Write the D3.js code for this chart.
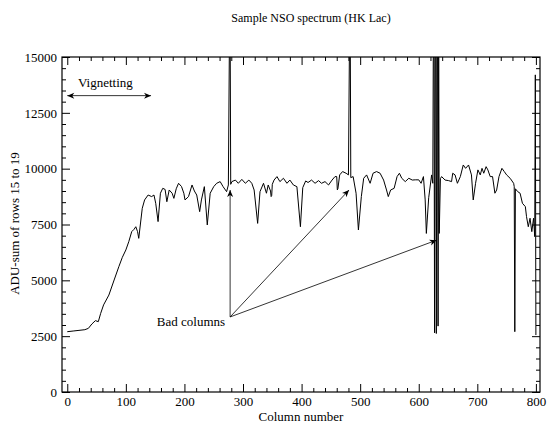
<!DOCTYPE html>
<html>
<head>
<meta charset="utf-8">
<script src="https://cdn.jsdelivr.net/npm/d3@7"></script>
<style>
  body { margin: 0; background: #fff; }
  svg, svg text { font-family: 'Liberation Serif', 'Times New Roman', serif; }
  .tick text { font-size: 13px; font-family: 'Liberation Serif', 'Times New Roman', serif; }
</style>
</head>
<body>
<svg id="chart" width="547" height="425"></svg>
<script>
// column numbers and summed ADU (bad columns run off the top)
const columns = [0, 10, 20, 30, 36, 42, 48, 53, 57, 62, 71, 80, 88, 94, 100, 105, 110, 114, 117, 120,
  122, 128, 132, 138, 144, 148, 151, 155, 159, 163, 167, 170, 174, 179, 182, 186, 190, 195, 199, 201,
  207, 213, 217, 221, 226, 229, 234, 239, 244, 250, 255, 261, 266, 272, 275, 277, 278, 279, 281, 287,
  292, 298, 304, 310, 315, 319, 325, 329, 335, 340, 343, 347, 348, 349, 350, 353, 358, 363, 369, 375,
  380, 386, 392, 398, 402, 407, 411, 417, 423, 429, 434, 440, 446, 452, 457, 460, 461, 462, 465, 470,
  476, 480, 482, 483, 484, 488, 493, 497, 502, 506, 511, 517, 522, 528, 534, 540, 545, 548, 552, 558,
  563, 567, 571, 577, 583, 589, 594, 600, 604, 608, 611, 613, 617, 622, 624, 625, 626, 627, 628, 629,
  630, 631, 632, 633, 634, 635, 637, 639, 645, 651, 656, 658, 662, 666, 671, 676, 680, 685, 690, 693,
  697, 701, 705, 708, 711, 715, 718, 722, 726, 730, 733, 737, 742, 746, 750, 756, 762, 763, 764, 765,
  769, 773, 777, 782, 784, 787, 790, 793, 796, 798, 799, 800];
const aduSum = [2700, 2730, 2760, 2790, 2850, 3045, 3195, 3150, 3520, 3900, 4340, 5015, 5610, 6030, 6360, 6730, 7180, 7285, 7400, 7180,
  6880, 8225, 8600, 8820, 8750, 8820, 8450, 7630, 8900, 9120, 9070, 8520, 9045, 8900, 8670, 9100, 9345, 9200, 8900, 8600,
  8750, 9270, 9000, 8820, 8075, 8600, 9195, 7480, 8900, 9195, 9345, 9420, 9195, 8970, 9270, 16500, 16500, 9300, 9420, 9490,
  9345, 9520, 9345, 9490, 9345, 9045, 7550, 8970, 9345, 8900, 9270, 9000, 8750, 8800, 9300, 9490, 9645, 9420, 9570, 9345,
  9490, 9270, 9195, 7400, 9150, 9450, 9380, 9490, 9345, 9465, 9345, 9420, 9270, 9490, 9645, 9645, 9050, 9100, 9720, 9870,
  9795, 9720, 16500, 16500, 9600, 9645, 8900, 7255, 8750, 9570, 9720, 9345, 9795, 9870, 9795, 9490, 9045, 8750, 9045, 9120,
  9645, 9795, 9570, 9420, 9570, 9490, 9500, 9500, 9345, 9645, 8600, 7100, 8700, 9720, 9345, 16500, 16500, 2650, 16500, 16500,
  2620, 16500, 16500, 2950, 16500, 7100, 9550, 9645, 9490, 9465, 9420, 9795, 9720, 9345, 9645, 10165, 10015, 10165, 9720, 8600,
  9345, 9945, 9720, 10015, 9795, 10090, 9945, 9645, 9645, 8900, 9045, 9645, 10015, 9870, 9720, 9570, 9345, 9195, 2700, 9100,
  8970, 8900, 8450, 8300, 7850, 7400, 7780, 7180, 7780, 6955, 14200, 2550];

const xMajor = [0, 100, 200, 300, 400, 500, 600, 700, 800];
const yMajor = [0, 2500, 5000, 7500, 10000, 12500, 15000];

// annotation anchors in data units
const vignetting = {from: 0, to: 143, level: 13270};
const badOrigin = [278, 3360];
const badTargets = [[278, 9045], [481, 9045], [630.5, 6800]];

const svg = d3.select('#chart');
const pLeft = 62, pRight = 540, pTop = 57, pBottom = 392;

const x = d3.scaleLinear().domain([-9, 807]).range([pLeft, pRight]);
const y = d3.scaleLinear().domain([0, 15000]).range([pBottom, pTop]);

const xMinor = d3.range(0, 801, 20).filter(v => v % 100 !== 0);
const yMinor = d3.range(0, 15001, 500).filter(v => v % 2500 !== 0);

const defs = svg.append('defs');
defs.append('clipPath').attr('id', 'plotclip')
  .append('rect').attr('x', pLeft).attr('y', pTop).attr('width', pRight - pLeft).attr('height', pBottom - pTop);

defs.append('marker')
  .attr('id', 'head')
  .attr('viewBox', '-8 -4 9 8')
  .attr('refX', 0).attr('refY', 0)
  .attr('markerWidth', 9).attr('markerHeight', 8)
  .attr('markerUnits', 'userSpaceOnUse')
  .attr('orient', 'auto-start-reverse')
  .append('path')
  .attr('d', 'M0,0 L-7,-3 L-5,0 L-7,3 Z')
  .attr('fill', '#000');

// axes, ticks pointing inwards
function addAxis(axis, tr, labels) {
  const g = svg.append('g').attr('transform', tr).call(axis)
    .attr('font-family', null).attr('font-size', null);
  g.select('.domain').remove();
  if (!labels) g.selectAll('text').remove();
  return g;
}

addAxis(d3.axisBottom(x).tickValues(xMajor).tickSize(-8).tickPadding(5).tickFormat(d3.format('d')), `translate(0,${pBottom})`, true);
addAxis(d3.axisBottom(x).tickValues(xMinor).tickSize(-4), `translate(0,${pBottom})`, false);
addAxis(d3.axisTop(x).tickValues(xMajor).tickSize(-8), `translate(0,${pTop})`, false);
addAxis(d3.axisTop(x).tickValues(xMinor).tickSize(-4), `translate(0,${pTop})`, false);
addAxis(d3.axisLeft(y).tickValues(yMajor).tickSize(-8).tickPadding(5).tickFormat(d3.format('d')), `translate(${pLeft},0)`, true);
addAxis(d3.axisLeft(y).tickValues(yMinor).tickSize(-4), `translate(${pLeft},0)`, false);
addAxis(d3.axisRight(y).tickValues(yMajor).tickSize(-8), `translate(${pRight},0)`, false);
addAxis(d3.axisRight(y).tickValues(yMinor).tickSize(-4), `translate(${pRight},0)`, false);

svg.selectAll('.tick text').attr('fill', '#000');
svg.selectAll('.tick line').attr('stroke', '#000');

svg.append('rect')
  .attr('x', pLeft).attr('y', pTop)
  .attr('width', pRight - pLeft).attr('height', pBottom - pTop)
  .attr('fill', 'none').attr('stroke', '#000').attr('stroke-width', 1.2);

// spectrum
const line = d3.line()
  .x((d, i) => x(columns[i]))
  .y(d => y(d));

svg.append('path')
  .datum(aduSum)
  .attr('clip-path', 'url(#plotclip)')
  .attr('d', line)
  .attr('fill', 'none')
  .attr('stroke', '#000')
  .attr('stroke-width', 1)
  .attr('stroke-linejoin', 'round');

// annotations
svg.append('line')
  .attr('x1', x(vignetting.from)).attr('x2', x(vignetting.to))
  .attr('y1', y(vignetting.level)).attr('y2', y(vignetting.level))
  .attr('stroke', '#000').attr('stroke-width', 0.8)
  .attr('marker-start', 'url(#head)').attr('marker-end', 'url(#head)');

svg.append('text')
  .attr('x', 78).attr('y', 87)
  .attr('font-size', 13)
  .text('Vignetting');

badTargets.forEach(t => {
  svg.append('line')
    .attr('x1', x(badOrigin[0])).attr('y1', y(badOrigin[1]))
    .attr('x2', x(t[0])).attr('y2', y(t[1]))
    .attr('stroke', '#000').attr('stroke-width', 0.8)
    .attr('marker-end', 'url(#head)');
});

svg.append('text')
  .attr('x', x(badOrigin[0]) - 5).attr('y', y(badOrigin[1]) + 9)
  .attr('text-anchor', 'end')
  .attr('font-size', 13)
  .text('Bad columns');

// titles
svg.append('text')
  .attr('x', 311).attr('y', 22)
  .attr('text-anchor', 'middle')
  .attr('font-size', 12)
  .text('Sample NSO spectrum (HK Lac)');

svg.append('text')
  .attr('x', (pLeft + pRight) / 2).attr('y', 421)
  .attr('text-anchor', 'middle')
  .attr('font-size', 13)
  .text('Column number');

svg.append('text')
  .attr('transform', `translate(19,${(pTop + pBottom) / 2 - 1}) rotate(-90)`)
  .attr('text-anchor', 'middle')
  .attr('font-size', 13)
  .text('ADU-sum of rows 15 to 19');
</script>
</body>
</html>
